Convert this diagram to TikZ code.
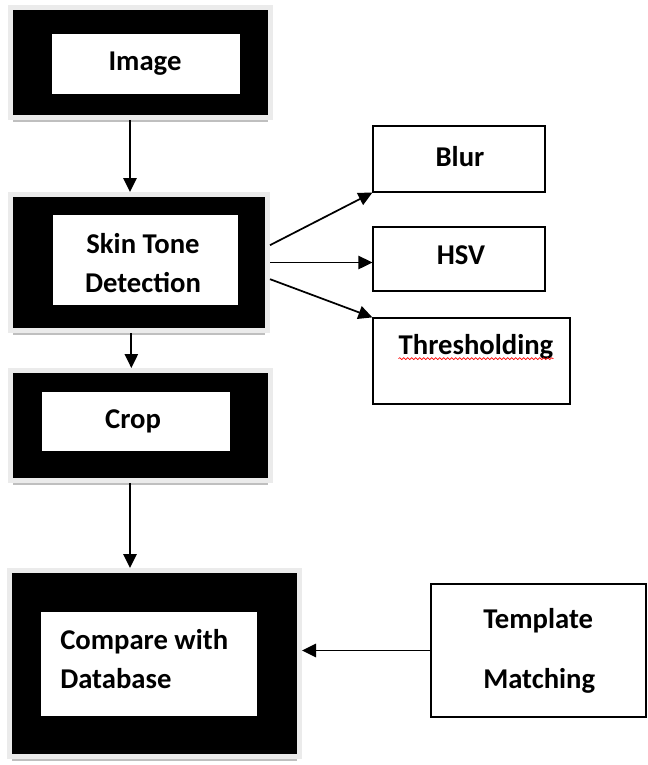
\documentclass[tikz,border=0pt]{standalone}
\usepackage{fontspec}
\setmainfont{Carlito}
\usetikzlibrary{arrows.meta,positioning,fit,shadows,decorations.pathmorphing}
\tikzset{
    %Define standard arrow tip
    >={Triangle[length=10.5pt,width=10pt]},
    % Define arrow style
    pil/.style={
           ->,
           line width=1.3pt},
    % black framed box with light grey rim
    blackbox/.style={
           drop shadow={shadow xshift=0pt, shadow yshift=-5.5pt,
                        fill=black!25, opacity=1},
           preaction={draw=black!8, line width=8pt},
           fill=black,
           inner sep=0pt,
           outer sep=3.75pt},
    whitebox/.style={
           fill=white,
           inner sep=0pt},
    sidebox/.style={
           draw=black,
           line width=0.9pt,
           inner sep=0pt},
    lbl/.style={
           font=\fontsize{21.5}{29}\selectfont\bfseries,
           align=center,
           inner sep=0pt}
}
\begin{document}
\begin{tikzpicture}[x=0.75pt,y=-0.75pt]
\useasboundingbox (0,0) rectangle (648,765);
\coordinate (axis) at (130,0);

% left column
\node[blackbox, fit={(13,10) (268,115)}] (imgbox) {};
\node[whitebox, fit={(52,34) (240,94)}] (imgin) {};
\node[lbl] (imgtxt) at (145,64) {Image};

\node[blackbox, fit={(13,197) (265,328)}] (skinbox) {};
\node[whitebox, fit={(53,215) (238,305)}] (skinin) {};
\node[lbl] (skintxt) at (143,263) {Skin Tone\\Detection};

\node[blackbox, fit={(13,373) (268,478)}] (cropbox) {};
\node[whitebox, fit={(42,392) (230,451)}] (cropin) {};
\node[lbl] (croptxt) at (133,421) {Crop};

\node[blackbox, fit={(12,573) (297,754)}] (cmpbox) {};
\node[whitebox, fit={(41,612) (257,716)}] (cmpin) {};
\node[lbl, align=left, anchor=west] (cmptxt) at (60,659) {Compare with\\Database};

% right column
\node[sidebox, fit={(373,126) (545,192)}] (blur) {};
\node[lbl] (blurtxt) at (460,157) {Blur};

\node[sidebox, fit={(373,227) (545,291)}] (hsv) {};
\node[lbl] (hsvtxt) at (461,255) {HSV};

\node[sidebox, fit={(373,318) (570,404)}] (thr) {};
\node[lbl] (thrtxt) at (476,347) {Thresholding};
\draw[red, line width=0.5pt, decorate,
      decoration={snake, amplitude=0.7pt, segment length=3pt}]
      ([yshift=-3pt]thrtxt.base west) -- ([yshift=-3pt]thrtxt.base east);

\node[sidebox, fit={(431,584) (646,717)}] (tmpl) {};
\node[lbl, align=left, anchor=west] (tmpltxt) at (483,651) {Template\\[16pt]Matching};

% arrows
\draw[pil] (imgbox.south -| axis) -- (skinbox.north -| axis);
\draw[pil] ([xshift=1pt]skinbox.south -| axis) -- ([xshift=1pt]cropbox.north -| axis);
\draw[pil] (cropbox.south -| axis) -- (cmpbox.north -| axis);

\draw[pil] ([yshift=13pt]skinbox.east) -- (blur.south west);
\draw[pil] (skinbox.east) -- (hsv.west |- skinbox.east);
\draw[pil] ([yshift=-12.5pt]skinbox.east) -- (thr.north west);

\draw[pil] (tmpl.west) -- (cmpbox.east |- tmpl.west);
\end{tikzpicture}
\end{document}
